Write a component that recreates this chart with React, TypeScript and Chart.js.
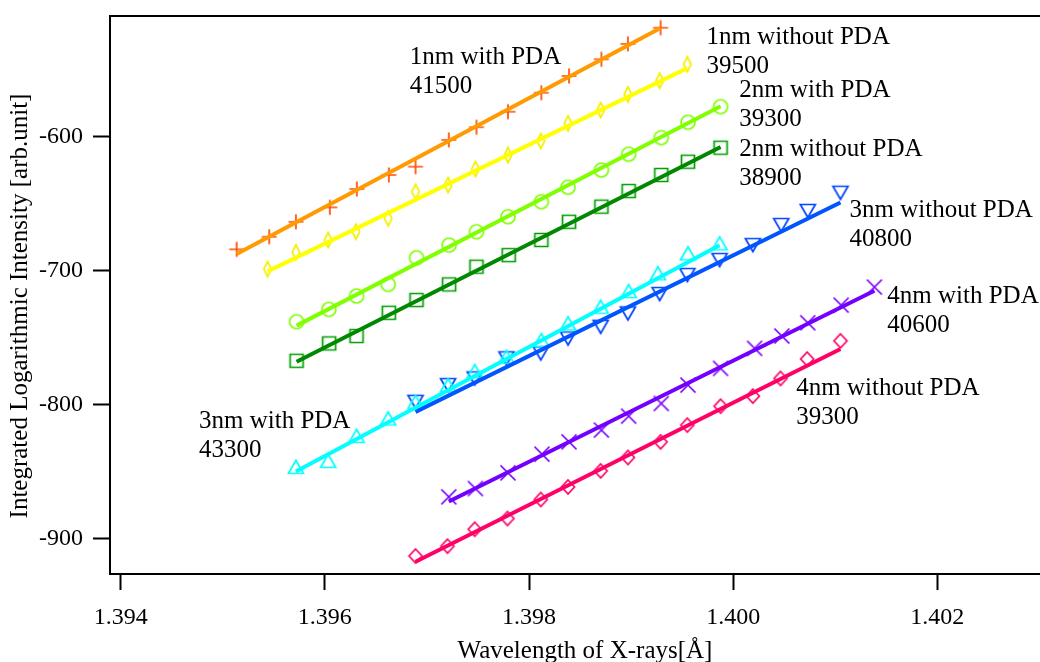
import React, { useEffect, useRef } from 'react';
import { Chart, registerables } from 'chart.js';

Chart.register(...registerables);

// ---------- Data ----------
const X_1NM_PDA = [1.395136, 1.395455, 1.395716, 1.396049, 1.396313, 1.396627, 1.396888, 1.397214, 1.397485, 1.397794, 1.398121, 1.398392, 1.398709, 1.398969, 1.399289];
const Y_1NM_PDA = [-684.0, -674.6, -663.4, -652.6, -638.9, -628.4, -622.2, -602.2, -592.7, -581.1, -566.9, -554.4, -541.9, -530.4, -518.3];

const X_1NM_NOPDA = [1.395439, 1.395716, 1.396032, 1.396304, 1.39662, 1.396888, 1.397207, 1.397475, 1.397794, 1.398115, 1.398382, 1.398702, 1.398969, 1.39928, 1.399551];
const Y_1NM_NOPDA = [-698.7, -686.2, -677.0, -670.8, -660.8, -640.9, -635.9, -623.9, -613.5, -603.0, -589.8, -579.8, -568.1, -557.9, -545.6];

const X_2NM_PDA = [1.395723, 1.396039, 1.39631, 1.39662, 1.396898, 1.397217, 1.397485, 1.397794, 1.398121, 1.398382, 1.398709, 1.398976, 1.399296, 1.399557, 1.399877];
const Y_2NM_PDA = [-738.1, -728.9, -718.9, -710.2, -690.3, -680.8, -670.8, -659.6, -648.4, -637.6, -624.7, -612.9, -600.5, -589.0, -577.3];

const X_2NM_NOPDA = [1.395723, 1.396042, 1.39631, 1.396627, 1.396898, 1.397217, 1.397485, 1.397801, 1.398121, 1.398392, 1.398709, 1.398976, 1.399296, 1.399557, 1.399877];
const Y_2NM_NOPDA = [-767.3, -754.3, -748.8, -731.4, -721.9, -710.2, -697.0, -688.3, -677.0, -663.4, -652.1, -640.4, -628.4, -618.5, -608.0];

const X_3NM_PDA = [1.395716, 1.396032, 1.39631, 1.39662, 1.396888, 1.397207, 1.397468, 1.397779, 1.398121, 1.398382, 1.398702, 1.398976, 1.399263, 1.399557, 1.399867];
const Y_3NM_PDA = [-846.6, -842.1, -823.4, -810.4, -798.0, -785.5, -775.0, -764.3, -751.8, -739.3, -726.9, -715.2, -701.9, -687.0, -679.5];

const X_3NM_NOPDA = [1.396888, 1.397207, 1.397468, 1.397779, 1.398115, 1.398382, 1.398702, 1.398969, 1.39928, 1.399551, 1.399867, 1.400193, 1.400471, 1.400731, 1.401051];
const Y_3NM_NOPDA = [-798.0, -785.5, -780.5, -765.5, -761.8, -750.6, -741.9, -731.9, -717.4, -703.2, -692.0, -680.8, -665.8, -655.3, -641.7];

const X_4NM_PDA = [1.397214, 1.397475, 1.397794, 1.398127, 1.398392, 1.398709, 1.398976, 1.399296, 1.399557, 1.399877, 1.40021, 1.400477, 1.400731, 1.401058, 1.401384];
const Y_4NM_PDA = [-869.0, -862.8, -851.1, -837.1, -827.9, -819.1, -808.7, -799.2, -785.5, -773.0, -758.0, -748.8, -738.9, -725.7, -712.2];

const X_4NM_NOPDA = [1.396888, 1.397201, 1.397468, 1.397789, 1.398115, 1.398382, 1.398702, 1.398969, 1.399289, 1.399551, 1.399877, 1.400193, 1.400464, 1.400725, 1.401051];
const Y_4NM_NOPDA = [-913.2, -905.9, -893.2, -885.2, -871.0, -861.6, -849.6, -839.6, -827.9, -815.4, -801.2, -793.7, -780.5, -766.0, -752.4];

// fitted lines: [start, end]
const FITX_1NM_PDA = [1.395136, 1.399289];
const FITY_1NM_PDA = [-687.5, -518.5];
const FITX_1NM_NOPDA = [1.395439, 1.399551];
const FITY_1NM_NOPDA = [-700.5, -548.5];
const FITX_2NM_PDA = [1.395723, 1.399877];
const FITY_2NM_PDA = [-741.0, -577.0];
const FITX_2NM_NOPDA = [1.395723, 1.399877];
const FITY_2NM_NOPDA = [-768.0, -607.5];
const FITX_3NM_PDA = [1.395716, 1.399867];
const FITY_3NM_PDA = [-850.0, -681.0];
const FITX_3NM_NOPDA = [1.396888, 1.401051];
const FITY_3NM_NOPDA = [-805.5, -649.0];
const FITX_4NM_PDA = [1.397214, 1.401384];
const FITY_4NM_PDA = [-872.5, -715.0];
const FITX_4NM_NOPDA = [1.396888, 1.401051];
const FITY_4NM_NOPDA = [-917.5, -758.5];

const SERIES_NAMES = ['1nm with PDA', '1nm without PDA', '2nm with PDA', '2nm without PDA', '3nm with PDA', '3nm without PDA', '4nm with PDA', '4nm without PDA'];
const SERIES_VALUES = ['41500', '39500', '39300', '38900', '43300', '40800', '40600', '39300'];

const X_TICKS = [1.394, 1.396, 1.398, 1.4, 1.402];
const X_TICK_LABELS = ['1.394', '1.396', '1.398', '1.400', '1.402'];
const Y_TICKS = [-600, -700, -800, -900];
const Y_TICK_LABELS = ['-600', '-700', '-800', '-900'];

const X_TITLE = 'Wavelength of X-rays[Å]';
const Y_TITLE = 'Integrated Logarithmic Intensity [arb.unit]';

// ---------- Styles / layout ----------
const STYLES = [
  { marker: 'plus', markerColor: '#ff4a00', lineColor: '#ff9a00' },
  { marker: 'diamondNarrow', markerColor: '#f4f000', lineColor: '#ffff00' },
  { marker: 'circle', markerColor: '#80ff00', lineColor: '#80ff00' },
  { marker: 'square', markerColor: '#00a000', lineColor: '#008800' },
  { marker: 'triUp', markerColor: '#00ffff', lineColor: '#00ffff' },
  { marker: 'triDown', markerColor: '#0044ff', lineColor: '#0055ff' },
  { marker: 'x', markerColor: '#7a00ff', lineColor: '#7300ff' },
  { marker: 'diamond', markerColor: '#ff0066', lineColor: '#ff0066' },
];

// annotation anchors (data coordinates of the first text line's left/baseline)
const LABEL_ANCHORS = [
  { x: 1.396832, y: -545.6 },
  { x: 1.39974, y: -530.7 },
  { x: 1.400059, y: -569.9 },
  { x: 1.400059, y: -614.2 },
  { x: 1.394767, y: -817.9 },
  { x: 1.40114, y: -659.6 },
  { x: 1.40151, y: -724.4 },
  { x: 1.400618, y: -793.0 },
];

const X_MIN = 1.393895;
const X_MAX = 1.403006;
const Y_MIN = -926.7;
const Y_MAX = -509.55;

const FONT = '"Liberation Serif", "Times New Roman", Times, serif';

function makeMarker(shape: string, color: string): HTMLCanvasElement {
  const c = document.createElement('canvas');
  const S = 20;
  c.width = S;
  c.height = S;
  const g = c.getContext('2d') as CanvasRenderingContext2D;
  g.strokeStyle = color;
  g.lineWidth = 1.7;
  const m = S / 2;
  g.beginPath();
  switch (shape) {
    case 'plus':
      g.moveTo(m - 7.5, m); g.lineTo(m + 7.5, m);
      g.moveTo(m, m - 7.5); g.lineTo(m, m + 7.5);
      break;
    case 'x':
      g.moveTo(m - 7.5, m - 7.5); g.lineTo(m + 7.5, m + 7.5);
      g.moveTo(m + 7.5, m - 7.5); g.lineTo(m - 7.5, m + 7.5);
      break;
    case 'circle':
      g.arc(m, m, 7, 0, Math.PI * 2);
      break;
    case 'square':
      g.rect(m - 6.5, m - 6.5, 13, 13);
      break;
    case 'triUp':
      g.moveTo(m, m - 6.5); g.lineTo(m + 7.5, m + 6.5); g.lineTo(m - 7.5, m + 6.5); g.closePath();
      break;
    case 'triDown':
      g.moveTo(m, m + 6.5); g.lineTo(m + 7.5, m - 6.5); g.lineTo(m - 7.5, m - 6.5); g.closePath();
      break;
    case 'diamondNarrow':
      g.moveTo(m, m - 7.5); g.lineTo(m + 3.8, m); g.lineTo(m, m + 7.5); g.lineTo(m - 3.8, m); g.closePath();
      break;
    case 'diamond':
      g.moveTo(m, m - 7); g.lineTo(m + 6.5, m); g.lineTo(m, m + 7); g.lineTo(m - 6.5, m); g.closePath();
      break;
  }
  g.stroke();
  return c;
}

const toPoints = (xs: number[], ys: number[]) => xs.map((x, i) => ({ x, y: ys[i] }));

const zeroPad = (s: any) => {
  s.paddingTop = 0;
  s.paddingBottom = 0;
  s.paddingLeft = 0;
  s.paddingRight = 0;
};

export default function App() {
  const ref = useRef<HTMLCanvasElement | null>(null);

  useEffect(() => {
    document.body.style.margin = '0';
    document.body.style.overflow = 'hidden';
    const canvas = ref.current;
    if (!canvas) return;

    const markerX = [X_1NM_PDA, X_1NM_NOPDA, X_2NM_PDA, X_2NM_NOPDA, X_3NM_PDA, X_3NM_NOPDA, X_4NM_PDA, X_4NM_NOPDA];
    const markerY = [Y_1NM_PDA, Y_1NM_NOPDA, Y_2NM_PDA, Y_2NM_NOPDA, Y_3NM_PDA, Y_3NM_NOPDA, Y_4NM_PDA, Y_4NM_NOPDA];
    const fitX = [FITX_1NM_PDA, FITX_1NM_NOPDA, FITX_2NM_PDA, FITX_2NM_NOPDA, FITX_3NM_PDA, FITX_3NM_NOPDA, FITX_4NM_PDA, FITX_4NM_NOPDA];
    const fitY = [FITY_1NM_PDA, FITY_1NM_NOPDA, FITY_2NM_PDA, FITY_2NM_NOPDA, FITY_3NM_PDA, FITY_3NM_NOPDA, FITY_4NM_PDA, FITY_4NM_NOPDA];

    const datasets: any[] = [];
    SERIES_NAMES.forEach((name, i) => {
      const st = STYLES[i];
      datasets.push({
        label: name + ' fit',
        data: toPoints(fitX[i], fitY[i]),
        showLine: true,
        borderColor: st.lineColor,
        borderWidth: 4,
        pointRadius: 0,
        fill: false,
        order: 1,
      });
      datasets.push({
        label: name,
        data: toPoints(markerX[i], markerY[i]),
        showLine: false,
        pointStyle: makeMarker(st.marker, st.markerColor),
        pointRadius: 7,
        borderColor: st.markerColor,
        backgroundColor: 'transparent',
        order: 2,
      });
    });

    const textPlugin = {
      id: 'texts',
      afterDraw(chart: any) {
        const { ctx, chartArea } = chart;
        const xs = chart.scales.x;
        const ys = chart.scales.y;
        ctx.save();
        // top frame line
        ctx.strokeStyle = '#000';
        ctx.lineWidth = 2;
        ctx.beginPath();
        ctx.moveTo(chartArea.left - 1, chartArea.top);
        ctx.lineTo(chartArea.right, chartArea.top);
        ctx.stroke();
        // annotations
        ctx.fillStyle = '#000';
        ctx.font = `25px ${FONT}`;
        ctx.textAlign = 'left';
        ctx.textBaseline = 'alphabetic';
        LABEL_ANCHORS.forEach((a, i) => {
          const px = xs.getPixelForValue(a.x);
          const py = ys.getPixelForValue(a.y);
          ctx.fillText(SERIES_NAMES[i], px, py);
          ctx.fillText(SERIES_VALUES[i], px, py + 29);
        });
        // axis titles
        ctx.font = `25px ${FONT}`;
        ctx.textAlign = 'center';
        ctx.fillText(X_TITLE, 585, 658);
        ctx.translate(27, 306);
        ctx.rotate(-Math.PI / 2);
        ctx.fillText(Y_TITLE, 0, 0);
        ctx.restore();
      },
    };

    const chart = new Chart(canvas, {
      type: 'scatter',
      data: { datasets },
      options: {
        animation: false,
        responsive: false,
        devicePixelRatio: 1,
        layout: { autoPadding: false, padding: { top: 16, left: 0, right: 0, bottom: 0 } },
        plugins: { legend: { display: false }, tooltip: { enabled: false }, title: { display: false } },
        scales: {
          x: {
            type: 'linear',
            min: X_MIN,
            max: X_MAX,
            afterFit: (s: any) => { s.height = 88; zeroPad(s); },
            afterBuildTicks: (s: any) => { s.ticks = X_TICKS.map((v) => ({ value: v })); },
            ticks: {
              color: '#000',
              font: { family: FONT, size: 24 },
              padding: 13,
              maxRotation: 0,
              autoSkip: false,
              callback: (v: any) => {
                const i = X_TICKS.findIndex((t) => Math.abs(t - Number(v)) < 1e-9);
                return i >= 0 ? X_TICK_LABELS[i] : '';
              },
            },
            grid: { drawOnChartArea: false, drawTicks: true, tickLength: 16, tickWidth: 2, tickColor: '#000' },
            border: { display: true, color: '#000', width: 2 },
          },
          y: {
            type: 'linear',
            min: Y_MIN,
            max: Y_MAX,
            afterFit: (s: any) => { s.width = 110; zeroPad(s); },
            afterBuildTicks: (s: any) => { s.ticks = Y_TICKS.map((v) => ({ value: v })); },
            ticks: {
              color: '#000',
              font: { family: FONT, size: 24 },
              padding: 10,
              autoSkip: false,
              callback: (v: any) => {
                const i = Y_TICKS.findIndex((t) => Math.abs(t - Number(v)) < 1e-9);
                return i >= 0 ? Y_TICK_LABELS[i] : '';
              },
            },
            grid: { drawOnChartArea: false, drawTicks: true, tickLength: 17, tickWidth: 2, tickColor: '#000' },
            border: { display: true, color: '#000', width: 2 },
          },
        },
      },
      plugins: [textPlugin],
    });

    return () => chart.destroy();
  }, []);

  return (
    <div style={{ width: 1040, height: 662, background: '#fff' }}>
      <canvas ref={ref} width={1040} height={662} style={{ display: 'block', width: 1040, height: 662 }} />
    </div>
  );
}
